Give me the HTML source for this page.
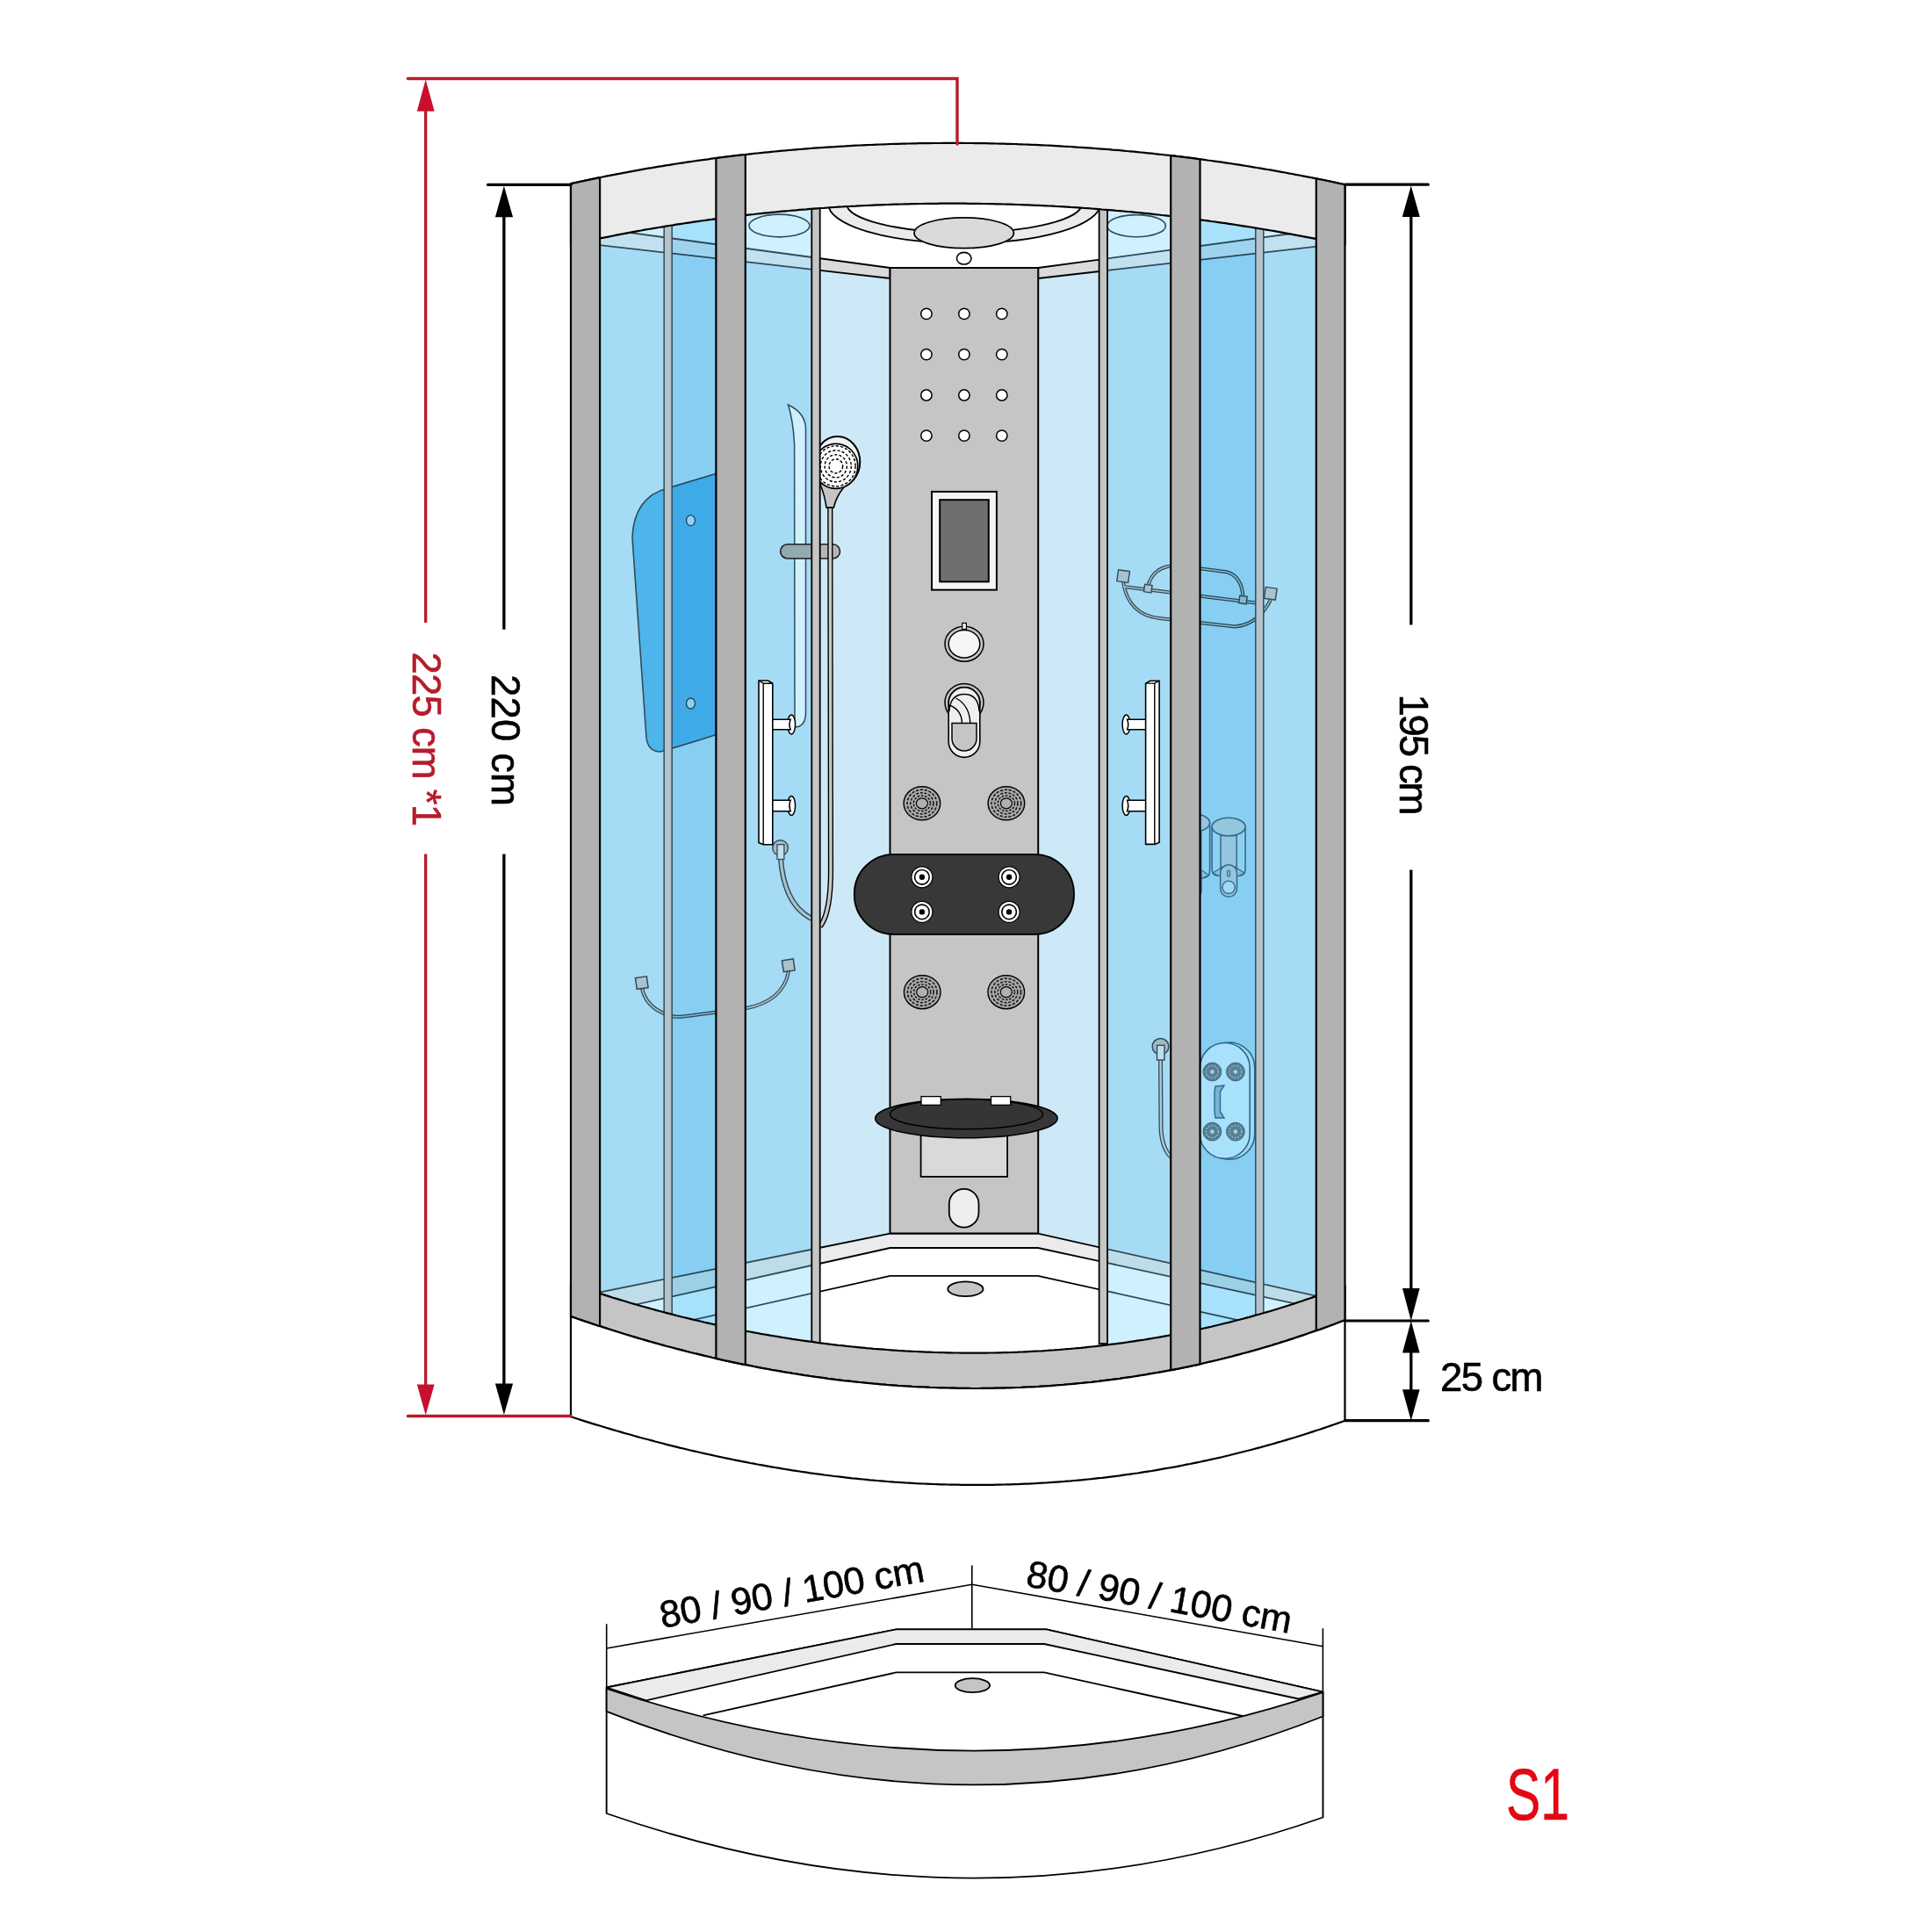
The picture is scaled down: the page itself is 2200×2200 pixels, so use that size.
<!DOCTYPE html><html><head><meta charset="utf-8"><style>html,body{margin:0;padding:0;background:#fff;}svg{display:block;}text{font-family:"Liberation Sans",sans-serif;stroke-width:0.6px;}</style></head><body>
<svg width="2200" height="2200" viewBox="0 0 2200 2200">
<rect width="2200" height="2200" fill="#fff"/>
<defs>
<clipPath id="cab"><path d="M650.0,209.2 654.0,208.3 658.0,207.5 662.0,206.6 666.0,205.7 670.0,204.9 674.0,204.0 678.0,203.2 682.1,202.3 686.1,201.5 690.1,200.7 694.1,199.9 698.1,199.1 702.1,198.3 706.1,197.6 710.1,196.8 714.1,196.1 718.1,195.3 722.1,194.6 726.1,193.9 730.1,193.1 734.1,192.4 738.1,191.7 742.2,191.1 746.2,190.4 750.2,189.7 754.2,189.1 758.2,188.4 762.2,187.8 766.2,187.1 770.2,186.5 774.2,185.9 778.2,185.3 782.2,184.7 786.2,184.1 790.2,183.5 794.2,182.9 798.3,182.4 802.3,181.8 806.3,181.3 810.3,180.7 814.3,180.2 818.3,179.7 822.3,179.2 826.3,178.7 830.3,178.2 834.3,177.7 838.3,177.2 842.3,176.7 846.3,176.3 850.3,175.8 854.3,175.4 858.4,174.9 862.4,174.5 866.4,174.1 870.4,173.7 874.4,173.3 878.4,172.9 882.4,172.5 886.4,172.1 890.4,171.7 894.4,171.4 898.4,171.0 902.4,170.7 906.4,170.3 910.4,170.0 914.5,169.7 918.5,169.3 922.5,169.0 926.5,168.7 930.5,168.4 934.5,168.2 938.5,167.9 942.5,167.6 946.5,167.3 950.5,167.1 954.5,166.8 958.5,166.6 962.5,166.4 966.5,166.1 970.5,165.9 974.6,165.7 978.6,165.5 982.6,165.3 986.6,165.1 990.6,165.0 994.6,164.8 998.6,164.6 1002.6,164.5 1006.6,164.3 1010.6,164.2 1014.6,164.0 1018.6,163.9 1022.6,163.8 1026.6,163.7 1030.6,163.6 1034.7,163.5 1038.7,163.4 1042.7,163.3 1046.7,163.2 1050.7,163.2 1054.7,163.1 1058.7,163.1 1062.7,163.0 1066.7,163.0 1070.7,163.0 1074.7,162.9 1078.7,162.9 1082.7,162.9 1086.7,162.9 1090.8,162.9 1094.8,162.9 1098.8,163.0 1102.8,163.0 1106.8,163.0 1110.8,163.1 1114.8,163.1 1118.8,163.2 1122.8,163.2 1126.8,163.3 1130.8,163.4 1134.8,163.5 1138.8,163.6 1142.8,163.7 1146.8,163.8 1150.9,163.9 1154.9,164.0 1158.9,164.2 1162.9,164.3 1166.9,164.5 1170.9,164.6 1174.9,164.8 1178.9,164.9 1182.9,165.1 1186.9,165.3 1190.9,165.5 1194.9,165.7 1198.9,165.9 1202.9,166.1 1206.9,166.3 1211.0,166.6 1215.0,166.8 1219.0,167.0 1223.0,167.3 1227.0,167.6 1231.0,167.8 1235.0,168.1 1239.0,168.4 1243.0,168.7 1247.0,169.0 1251.0,169.3 1255.0,169.6 1259.0,169.9 1263.0,170.2 1267.0,170.6 1271.1,170.9 1275.1,171.2 1279.1,171.6 1283.1,172.0 1287.1,172.3 1291.1,172.7 1295.1,173.1 1299.1,173.5 1303.1,173.9 1307.1,174.3 1311.1,174.7 1315.1,175.2 1319.1,175.6 1323.1,176.0 1327.2,176.5 1331.2,176.9 1335.2,177.4 1339.2,177.9 1343.2,178.3 1347.2,178.8 1351.2,179.3 1355.2,179.8 1359.2,180.3 1363.2,180.9 1367.2,181.4 1371.2,181.9 1375.2,182.5 1379.2,183.0 1383.2,183.6 1387.3,184.2 1391.3,184.7 1395.3,185.3 1399.3,185.9 1403.3,186.5 1407.3,187.1 1411.3,187.7 1415.3,188.4 1419.3,189.0 1423.3,189.6 1427.3,190.3 1431.3,191.0 1435.3,191.6 1439.3,192.3 1443.3,193.0 1447.4,193.7 1451.4,194.4 1455.4,195.1 1459.4,195.8 1463.4,196.5 1467.4,197.3 1471.4,198.0 1475.4,198.8 1479.4,199.5 1483.4,200.3 1487.4,201.1 1491.4,201.9 1495.4,202.7 1499.4,203.5 1503.5,204.3 1507.5,205.1 1511.5,206.0 1515.5,206.8 1519.5,207.7 1523.5,208.5 1527.5,209.4 1531.5,210.3 L1531.5,1503.0 1527.5,1504.6 1523.5,1506.1 1519.5,1507.7 1515.5,1509.2 1511.5,1510.7 1507.5,1512.1 1503.5,1513.6 1499.4,1515.0 1495.4,1516.4 1491.4,1517.8 1487.4,1519.2 1483.4,1520.6 1479.4,1521.9 1475.4,1523.3 1471.4,1524.6 1467.4,1525.9 1463.4,1527.2 1459.4,1528.4 1455.4,1529.7 1451.4,1530.9 1447.4,1532.2 1443.3,1533.4 1439.3,1534.5 1435.3,1535.7 1431.3,1536.9 1427.3,1538.0 1423.3,1539.1 1419.3,1540.2 1415.3,1541.3 1411.3,1542.4 1407.3,1543.4 1403.3,1544.5 1399.3,1545.5 1395.3,1546.5 1391.3,1547.5 1387.3,1548.5 1383.2,1549.5 1379.2,1550.4 1375.2,1551.3 1371.2,1552.3 1367.2,1553.2 1363.2,1554.1 1359.2,1554.9 1355.2,1555.8 1351.2,1556.6 1347.2,1557.4 1343.2,1558.3 1339.2,1559.1 1335.2,1559.8 1331.2,1560.6 1327.2,1561.4 1323.1,1562.1 1319.1,1562.8 1315.1,1563.5 1311.1,1564.2 1307.1,1564.9 1303.1,1565.6 1299.1,1566.2 1295.1,1566.8 1291.1,1567.5 1287.1,1568.1 1283.1,1568.7 1279.1,1569.2 1275.1,1569.8 1271.1,1570.3 1267.0,1570.9 1263.0,1571.4 1259.0,1571.9 1255.0,1572.4 1251.0,1572.9 1247.0,1573.3 1243.0,1573.8 1239.0,1574.2 1235.0,1574.6 1231.0,1575.0 1227.0,1575.4 1223.0,1575.8 1219.0,1576.2 1215.0,1576.5 1211.0,1576.9 1206.9,1577.2 1202.9,1577.5 1198.9,1577.8 1194.9,1578.1 1190.9,1578.4 1186.9,1578.6 1182.9,1578.9 1178.9,1579.1 1174.9,1579.3 1170.9,1579.5 1166.9,1579.7 1162.9,1579.9 1158.9,1580.0 1154.9,1580.2 1150.9,1580.3 1146.8,1580.4 1142.8,1580.6 1138.8,1580.7 1134.8,1580.7 1130.8,1580.8 1126.8,1580.9 1122.8,1580.9 1118.8,1580.9 1114.8,1581.0 1110.8,1581.0 1106.8,1581.0 1102.8,1580.9 1098.8,1580.9 1094.8,1580.9 1090.8,1580.8 1086.7,1580.7 1082.7,1580.6 1078.7,1580.5 1074.7,1580.4 1070.7,1580.3 1066.7,1580.2 1062.7,1580.0 1058.7,1579.9 1054.7,1579.7 1050.7,1579.5 1046.7,1579.3 1042.7,1579.1 1038.7,1578.9 1034.7,1578.6 1030.6,1578.4 1026.6,1578.1 1022.6,1577.9 1018.6,1577.6 1014.6,1577.3 1010.6,1577.0 1006.6,1576.6 1002.6,1576.3 998.6,1575.9 994.6,1575.6 990.6,1575.2 986.6,1574.8 982.6,1574.4 978.6,1574.0 974.6,1573.6 970.5,1573.2 966.5,1572.7 962.5,1572.3 958.5,1571.8 954.5,1571.3 950.5,1570.8 946.5,1570.3 942.5,1569.8 938.5,1569.2 934.5,1568.7 930.5,1568.1 926.5,1567.6 922.5,1567.0 918.5,1566.4 914.5,1565.8 910.4,1565.2 906.4,1564.5 902.4,1563.9 898.4,1563.2 894.4,1562.6 890.4,1561.9 886.4,1561.2 882.4,1560.5 878.4,1559.8 874.4,1559.0 870.4,1558.3 866.4,1557.6 862.4,1556.8 858.4,1556.0 854.3,1555.2 850.3,1554.4 846.3,1553.6 842.3,1552.8 838.3,1552.0 834.3,1551.1 830.3,1550.2 826.3,1549.4 822.3,1548.5 818.3,1547.6 814.3,1546.7 810.3,1545.8 806.3,1544.8 802.3,1543.9 798.3,1542.9 794.2,1541.9 790.2,1541.0 786.2,1540.0 782.2,1539.0 778.2,1537.9 774.2,1536.9 770.2,1535.9 766.2,1534.8 762.2,1533.7 758.2,1532.7 754.2,1531.6 750.2,1530.5 746.2,1529.4 742.2,1528.2 738.1,1527.1 734.1,1525.9 730.1,1524.8 726.1,1523.6 722.1,1522.4 718.1,1521.2 714.1,1520.0 710.1,1518.8 706.1,1517.5 702.1,1516.3 698.1,1515.0 694.1,1513.7 690.1,1512.4 686.1,1511.1 682.1,1509.8 678.0,1508.5 674.0,1507.2 670.0,1505.8 666.0,1504.5 662.0,1503.1 658.0,1501.7 654.0,1500.3 650.0,1498.9 Z"/></clipPath>
<clipPath id="open"><rect x="934" y="0" width="318" height="2200"/></clipPath>
<clipPath id="glz"><rect x="0" y="0" width="934" height="2200"/><rect x="1252" y="0" width="948" height="2200"/></clipPath>
</defs>
<g clip-path="url(#cab)">
<g id="intr" clip-path="url(#open)" color="#000" style="--rail:#dadada"><rect x="640" y="150" width="900" height="1560" fill="#cde9f7"/>
<polygon points="640,150 1540,150 1540.0,256.6 1182.2,305.0 1013.5,305.0 640.0,254.5" fill="#fff"/>
<polygon points="640.0,254.5 1013.5,305.0 1013.5,317.0 640.0,274.2" style="fill:var(--rail)" stroke="currentColor" stroke-width="1.8" stroke-linejoin="round"/>
<polygon points="1182.2,305.0 1540.0,256.6 1540.0,276.0 1182.2,317.0" style="fill:var(--rail)" stroke="currentColor" stroke-width="1.8" stroke-linejoin="round"/>
<polygon points="640.0,1480.3 1013.6,1404.6 1182.0,1404.6 1540.0,1485.1 1540,1720 640,1720" fill="#fff"/>
<polygon points="640.0,1480.3 1013.6,1404.6 1182.0,1404.6 1540.0,1485.1 1540.0,1498.7 1182.0,1421.0 1013.6,1421.0 640.0,1504.3" fill="#ebebeb" stroke="currentColor" stroke-width="1.8" stroke-linejoin="round"/>
<polyline points="640.0,1536.3 1013.6,1452.9 1182.0,1452.9 1540.0,1532.0" fill="none" stroke="currentColor" stroke-width="1.8" stroke-linejoin="round"/></g>
<g clip-path="url(#glz)" color="#3b4f5b" style="--rail:#eef0f2"><rect x="640" y="150" width="900" height="1560" fill="#cde9f7"/>
<polygon points="640,150 1540,150 1540.0,256.6 1182.2,305.0 1013.5,305.0 640.0,254.5" fill="#fff"/>
<polygon points="640.0,254.5 1013.5,305.0 1013.5,317.0 640.0,274.2" style="fill:var(--rail)" stroke="currentColor" stroke-width="1.8" stroke-linejoin="round"/>
<polygon points="1182.2,305.0 1540.0,256.6 1540.0,276.0 1182.2,317.0" style="fill:var(--rail)" stroke="currentColor" stroke-width="1.8" stroke-linejoin="round"/>
<polygon points="640.0,1480.3 1013.6,1404.6 1182.0,1404.6 1540.0,1485.1 1540,1720 640,1720" fill="#fff"/>
<polygon points="640.0,1480.3 1013.6,1404.6 1182.0,1404.6 1540.0,1485.1 1540.0,1498.7 1182.0,1421.0 1013.6,1421.0 640.0,1504.3" fill="#ebebeb" stroke="currentColor" stroke-width="1.8" stroke-linejoin="round"/>
<polyline points="640.0,1536.3 1013.6,1452.9 1182.0,1452.9 1540.0,1532.0" fill="none" stroke="currentColor" stroke-width="1.8" stroke-linejoin="round"/></g>
<ellipse cx="1099.4" cy="1467.8" rx="20.1" ry="8.4" fill="#c6c5c6" stroke="#000" stroke-width="1.8"/>
<rect x="1013.5" y="305" width="168.7" height="1099.5" fill="#c6c5c6" stroke="#000" stroke-width="2"/>
<path d="M 943 232 A 155 45 0 0 0 1253 232 L 1232 232 A 134 32.8 0 0 1 964 232 Z" fill="#ebebeb" stroke="#000" stroke-width="1.8"/>
<ellipse cx="1097.7" cy="265.3" rx="56.7" ry="17.4" fill="#dadada" stroke="#000" stroke-width="1.8"/>
<ellipse cx="1097.7" cy="294.2" rx="8.3" ry="6.8" fill="#fff" stroke="#000" stroke-width="1.6"/>
<circle cx="1054.9" cy="357.4" r="6.2" fill="#fff" stroke="#000" stroke-width="1.5"/>
<circle cx="1097.9" cy="357.4" r="6.2" fill="#fff" stroke="#000" stroke-width="1.5"/>
<circle cx="1140.8" cy="357.4" r="6.2" fill="#fff" stroke="#000" stroke-width="1.5"/>
<circle cx="1054.9" cy="403.6" r="6.2" fill="#fff" stroke="#000" stroke-width="1.5"/>
<circle cx="1097.9" cy="403.6" r="6.2" fill="#fff" stroke="#000" stroke-width="1.5"/>
<circle cx="1140.8" cy="403.6" r="6.2" fill="#fff" stroke="#000" stroke-width="1.5"/>
<circle cx="1054.9" cy="450.0" r="6.2" fill="#fff" stroke="#000" stroke-width="1.5"/>
<circle cx="1097.9" cy="450.0" r="6.2" fill="#fff" stroke="#000" stroke-width="1.5"/>
<circle cx="1140.8" cy="450.0" r="6.2" fill="#fff" stroke="#000" stroke-width="1.5"/>
<circle cx="1054.9" cy="496.1" r="6.2" fill="#fff" stroke="#000" stroke-width="1.5"/>
<circle cx="1097.9" cy="496.1" r="6.2" fill="#fff" stroke="#000" stroke-width="1.5"/>
<circle cx="1140.8" cy="496.1" r="6.2" fill="#fff" stroke="#000" stroke-width="1.5"/>
<rect x="1061" y="559.9" width="73.9" height="111.8" fill="#f5f5f5" stroke="#000" stroke-width="2"/>
<rect x="1070.2" y="569.2" width="55.6" height="93.2" fill="#706f70" stroke="#000" stroke-width="2"/>
<ellipse cx="1098" cy="733.2" rx="22" ry="20" fill="#c6c5c6" stroke="#000" stroke-width="1.5"/>
<ellipse cx="1098" cy="733.2" rx="17.8" ry="15.8" fill="#f5f5f5" stroke="#000" stroke-width="1.5"/>
<rect x="1095.7" y="709.5" width="4.7" height="7" fill="#f5f5f5" stroke="#000" stroke-width="1.2"/>
<ellipse cx="1098" cy="800" rx="22" ry="21.5" fill="#c6c5c6" stroke="#000" stroke-width="1.5"/>
<ellipse cx="1098" cy="800" rx="18" ry="17.5" fill="#f0f0f0" stroke="#000" stroke-width="1.3"/>
<rect x="1080.2" y="782.8" width="35.6" height="79.6" rx="17.8" ry="17.8" fill="#efefef" stroke="#000" stroke-width="1.6"/>
<path d="M 1081 810 Q 1082 790.5 1098 790.5 Q 1114 790.5 1115 810" fill="none" stroke="#000" stroke-width="1.4"/>
<path d="M 1081 803 Q 1095 808 1095.5 823.5 M 1088.5 795 Q 1104 803 1104.8 823.5" fill="none" stroke="#000" stroke-width="1.4"/>
<path d="M 1084 823.5 L 1112 823.5 L 1112 841 A 14 14 0 0 1 1084 841 Z" fill="#c6c5c6" stroke="#000" stroke-width="1.5"/>
<ellipse cx="1049.9" cy="914.8" rx="20.8" ry="19" fill="#a9a9a9" stroke="#000" stroke-width="1.4"/><ellipse cx="1049.9" cy="914.8" rx="16.8" ry="15.5" fill="none" stroke="#111" stroke-width="1.5" stroke-dasharray="3.2 1.7"/><ellipse cx="1049.9" cy="914.8" rx="13.0" ry="12.0" fill="none" stroke="#111" stroke-width="1.5" stroke-dasharray="3 1.7"/><ellipse cx="1049.9" cy="914.8" rx="9.6" ry="8.8" fill="none" stroke="#111" stroke-width="1.5" stroke-dasharray="2.6 1.6"/><ellipse cx="1049.9" cy="914.8" rx="6.5" ry="6" fill="#b0b0b0" stroke="#000" stroke-width="1.2"/>
<ellipse cx="1145.9" cy="914.8" rx="20.8" ry="19" fill="#a9a9a9" stroke="#000" stroke-width="1.4"/><ellipse cx="1145.9" cy="914.8" rx="16.8" ry="15.5" fill="none" stroke="#111" stroke-width="1.5" stroke-dasharray="3.2 1.7"/><ellipse cx="1145.9" cy="914.8" rx="13.0" ry="12.0" fill="none" stroke="#111" stroke-width="1.5" stroke-dasharray="3 1.7"/><ellipse cx="1145.9" cy="914.8" rx="9.6" ry="8.8" fill="none" stroke="#111" stroke-width="1.5" stroke-dasharray="2.6 1.6"/><ellipse cx="1145.9" cy="914.8" rx="6.5" ry="6" fill="#b0b0b0" stroke="#000" stroke-width="1.2"/>
<ellipse cx="1050.2" cy="1129.7" rx="20.8" ry="19" fill="#a9a9a9" stroke="#000" stroke-width="1.4"/><ellipse cx="1050.2" cy="1129.7" rx="16.8" ry="15.5" fill="none" stroke="#111" stroke-width="1.5" stroke-dasharray="3.2 1.7"/><ellipse cx="1050.2" cy="1129.7" rx="13.0" ry="12.0" fill="none" stroke="#111" stroke-width="1.5" stroke-dasharray="3 1.7"/><ellipse cx="1050.2" cy="1129.7" rx="9.6" ry="8.8" fill="none" stroke="#111" stroke-width="1.5" stroke-dasharray="2.6 1.6"/><ellipse cx="1050.2" cy="1129.7" rx="6.5" ry="6" fill="#b0b0b0" stroke="#000" stroke-width="1.2"/>
<ellipse cx="1145.8" cy="1129.7" rx="20.8" ry="19" fill="#a9a9a9" stroke="#000" stroke-width="1.4"/><ellipse cx="1145.8" cy="1129.7" rx="16.8" ry="15.5" fill="none" stroke="#111" stroke-width="1.5" stroke-dasharray="3.2 1.7"/><ellipse cx="1145.8" cy="1129.7" rx="13.0" ry="12.0" fill="none" stroke="#111" stroke-width="1.5" stroke-dasharray="3 1.7"/><ellipse cx="1145.8" cy="1129.7" rx="9.6" ry="8.8" fill="none" stroke="#111" stroke-width="1.5" stroke-dasharray="2.6 1.6"/><ellipse cx="1145.8" cy="1129.7" rx="6.5" ry="6" fill="#b0b0b0" stroke="#000" stroke-width="1.2"/>
<rect x="972.8" y="972.8" width="250.2" height="91.2" rx="45" ry="45" fill="#383838" stroke="#000" stroke-width="1.8"/>
<circle cx="1049.9" cy="998.8" r="12" fill="#fff" stroke="#000" stroke-width="1.2"/><circle cx="1049.9" cy="998.8" r="8.3" fill="#fff" stroke="#000" stroke-width="1.6"/><circle cx="1049.9" cy="998.8" r="3.2" fill="#000"/>
<circle cx="1049.9" cy="1038.4" r="12" fill="#fff" stroke="#000" stroke-width="1.2"/><circle cx="1049.9" cy="1038.4" r="8.3" fill="#fff" stroke="#000" stroke-width="1.6"/><circle cx="1049.9" cy="1038.4" r="3.2" fill="#000"/>
<circle cx="1149.1" cy="998.8" r="12" fill="#fff" stroke="#000" stroke-width="1.2"/><circle cx="1149.1" cy="998.8" r="8.3" fill="#fff" stroke="#000" stroke-width="1.6"/><circle cx="1149.1" cy="998.8" r="3.2" fill="#000"/>
<circle cx="1149.1" cy="1038.4" r="12" fill="#fff" stroke="#000" stroke-width="1.2"/><circle cx="1149.1" cy="1038.4" r="8.3" fill="#fff" stroke="#000" stroke-width="1.6"/><circle cx="1149.1" cy="1038.4" r="3.2" fill="#000"/>
<rect x="1048.6" y="1288" width="98.5" height="51.9" fill="#d9d9d9" stroke="#000" stroke-width="1.8"/>
<ellipse cx="1100.4" cy="1273.6" rx="103.7" ry="22.2" fill="#373737" stroke="#000" stroke-width="1.6"/>
<ellipse cx="1100.5" cy="1268.8" rx="87" ry="17" fill="#353535" stroke="#000" stroke-width="1.6"/>
<rect x="1049" y="1248.6" width="22.3" height="9.7" fill="#fff" stroke="#000" stroke-width="1.3"/>
<rect x="1128.5" y="1248.6" width="22.2" height="9.7" fill="#fff" stroke="#000" stroke-width="1.3"/>
<rect x="1080.8" y="1353.9" width="33.7" height="43.8" rx="16.8" ry="17" fill="#ededed" stroke="#000" stroke-width="1.8"/>
<ellipse cx="887.5" cy="257" rx="34.5" ry="12.9" fill="#fff" stroke="#3b4f5b" stroke-width="1.6"/>
<ellipse cx="1294.1" cy="257.2" rx="33.2" ry="12.6" fill="#fff" stroke="#3b4f5b" stroke-width="1.6"/>
<path d="M 830 535 L 760 556 Q 722 566 720 612 L 736 840 Q 738 856 752 856 Q 790 845 830 832 Z" fill="#5ec1ec" stroke="#3b4f5b" stroke-width="1.6"/>
<ellipse cx="786.5" cy="592.6" rx="5" ry="6" fill="#d9eefa" stroke="#3b4f5b" stroke-width="1.4"/>
<ellipse cx="786.5" cy="801" rx="5" ry="6" fill="#d9eefa" stroke="#3b4f5b" stroke-width="1.4"/>
<path d="M 897.5 461 Q 917 470 917.5 488 L 917.5 812 Q 917 828 905 828 L 904.6 505 Q 903 478 897.5 461 Z" fill="#fff" stroke="#3b4f5b" stroke-width="1.5"/>
<rect x="888.7" y="619.8" width="67.8" height="16.2" rx="8.1" fill="#b5b5b5" stroke="#222" stroke-width="1.6"/>
<path d="M 889 978 Q 893 1030 924 1046" fill="none" stroke="#3b4f5b" stroke-width="6"/><path d="M 889 978 Q 893 1030 924 1046" fill="none" stroke="#d0d0d0" stroke-width="3.2"/>
<circle cx="888.6" cy="965.5" r="8.8" fill="#c8c8c8" stroke="#3b4f5b" stroke-width="1.4"/>
<rect x="885" y="961.7" width="7.9" height="16.8" fill="#eee" stroke="#3b4f5b" stroke-width="1.3"/>
<path d="M 731 1125 Q 735 1145 756 1154 L 765 1157 Q 770 1159 790 1156 L 849 1148.3 Q 892 1140 898 1106" fill="none" stroke="#3b4f5b" stroke-width="4.2"/><path d="M 731 1125 Q 735 1145 756 1154 L 765 1157 Q 770 1159 790 1156 L 849 1148.3 Q 892 1140 898 1106" fill="none" stroke="#cfcfcf" stroke-width="1.6"/>
<rect x="724.3" y="1112.6" width="13" height="13" fill="#cfcfcf" stroke="#3b4f5b" stroke-width="1.5" transform="rotate(-8 730.8 1119.1)"/>
<rect x="891.3" y="1092.8" width="13" height="13" fill="#cfcfcf" stroke="#3b4f5b" stroke-width="1.5" transform="rotate(-8 897.8 1099.3)"/>
<path d="M 1279 663 Q 1285 700 1320 704 L 1405.8 713.4 Q 1432 712 1447 683 M 1279 668 L 1430 686.5 M 1307 668 Q 1313 644 1340 644 L 1396.7 651.3 Q 1414 656 1415.5 680" fill="none" stroke="#3b4f5b" stroke-width="4"/><path d="M 1279 663 Q 1285 700 1320 704 L 1405.8 713.4 Q 1432 712 1447 683 M 1279 668 L 1430 686.5 M 1307 668 Q 1313 644 1340 644 L 1396.7 651.3 Q 1414 656 1415.5 680" fill="none" stroke="#cfcfcf" stroke-width="1.5"/>
<rect x="1272.6" y="649.7" width="13.0" height="13.0" fill="#cfcfcf" stroke="#3b4f5b" stroke-width="1.4" transform="rotate(8 1279.1 656.2)"/>
<rect x="1440.3" y="669.3" width="13.0" height="13.0" fill="#cfcfcf" stroke="#3b4f5b" stroke-width="1.4" transform="rotate(8 1446.8 675.8)"/>
<rect x="1303.0" y="665.9" width="8.5" height="8.5" fill="#cfcfcf" stroke="#3b4f5b" stroke-width="1.4" transform="rotate(8 1307.3 670.1)"/>
<rect x="1411.2" y="678.8" width="8.5" height="8.5" fill="#cfcfcf" stroke="#3b4f5b" stroke-width="1.4" transform="rotate(8 1415.5 683.0)"/>
<path d="M 1339.6 937.0 L 1339.6 991.6 Q 1339.6 999.6 1347.6 999.6 L 1369.6 999.6 Q 1377.6 999.6 1377.6 991.6 L 1377.6 937.0" fill="#f4f4f4" fill-opacity="0.25" stroke="#4a7890" stroke-width="1.6"/>
<path d="M 1340.6 996.6 L 1349.6 990.6 L 1349.6 1000.6 Z M 1376.6 996.6 L 1367.6 990.6 L 1367.6 1000.6 Z" fill="#d6d6d6" stroke="#4a7890" stroke-width="1.2"/>
<rect x="1349.5" y="947.0" width="18.2" height="42.6" fill="#e2e2e2" stroke="#4a7890" stroke-width="1.5"/>
<ellipse cx="1358.6" cy="937.0" rx="19" ry="10.3" fill="#e2e2e2" stroke="#4a7890" stroke-width="1.6"/>
<rect x="1349.2" y="987.1" width="18.8" height="36.4" rx="9.4" ry="9.4" fill="#e2e2e2" stroke="#4a7890" stroke-width="1.5"/>
<circle cx="1358.6" cy="1012.6" r="7.2" fill="#f6f6f6" stroke="#4a7890" stroke-width="1.4"/>
<rect x="1357.1" y="993.6" width="3" height="7" rx="1.2" fill="#d0d0d0" stroke="#4a7890" stroke-width="1.1"/>
<path d="M 1380.1 941.5 L 1380.1 989.3 Q 1380.1 997.3 1388.1 997.3 L 1410.1 997.3 Q 1418.1 997.3 1418.1 989.3 L 1418.1 941.5" fill="#f4f4f4" fill-opacity="0.25" stroke="#4a7890" stroke-width="1.6"/>
<path d="M 1381.1 994.3 L 1390.1 988.3 L 1390.1 998.3 Z M 1417.1 994.3 L 1408.1 988.3 L 1408.1 998.3 Z" fill="#d6d6d6" stroke="#4a7890" stroke-width="1.2"/>
<rect x="1390.0" y="951.5" width="18.2" height="35.8" fill="#e2e2e2" stroke="#4a7890" stroke-width="1.5"/>
<ellipse cx="1399.1" cy="941.5" rx="19" ry="10.3" fill="#e2e2e2" stroke="#4a7890" stroke-width="1.6"/>
<rect x="1389.7" y="984.8" width="18.8" height="36.4" rx="9.4" ry="9.4" fill="#e2e2e2" stroke="#4a7890" stroke-width="1.5"/>
<circle cx="1399.1" cy="1010.3" r="7.2" fill="#f6f6f6" stroke="#4a7890" stroke-width="1.4"/>
<rect x="1397.6" y="991.3" width="3" height="7" rx="1.2" fill="#d0d0d0" stroke="#4a7890" stroke-width="1.1"/>
<path d="M 1321.5 1207 L 1322 1285 Q 1323 1308 1334 1318" fill="none" stroke="#3b4f5b" stroke-width="5"/><path d="M 1321.5 1207 L 1322 1285 Q 1323 1308 1334 1318" fill="none" stroke="#d8d8d8" stroke-width="2.4"/>
<circle cx="1321.5" cy="1191.7" r="9.3" fill="#c8c8c8" stroke="#3b4f5b" stroke-width="1.5"/>
<rect x="1317.5" y="1190.3" width="8.4" height="16.7" fill="#eee" stroke="#3b4f5b" stroke-width="1.4"/>
<rect x="1371" y="1187" width="57.8" height="133.2" rx="28.9" ry="28.9" fill="#eef6fa" stroke="#4a7488" stroke-width="1.6"/>
<rect x="1366.4" y="1187.5" width="56.8" height="131.8" rx="28.4" ry="28.4" fill="#ffffff" stroke="#4a7488" stroke-width="1.6"/>
<circle cx="1380.4" cy="1220.5" r="10.4" fill="#8c9092" stroke="#4a7488" stroke-width="1"/><circle cx="1380.4" cy="1220.5" r="7" fill="none" stroke="#dfeef5" stroke-width="1.2" stroke-dasharray="1.5 2"/><circle cx="1380.4" cy="1220.5" r="2.3" fill="#e8f3f8"/>
<circle cx="1406.9" cy="1220.5" r="10.4" fill="#8c9092" stroke="#4a7488" stroke-width="1"/><circle cx="1406.9" cy="1220.5" r="7" fill="none" stroke="#dfeef5" stroke-width="1.2" stroke-dasharray="1.5 2"/><circle cx="1406.9" cy="1220.5" r="2.3" fill="#e8f3f8"/>
<circle cx="1380.4" cy="1288.6" r="10.4" fill="#8c9092" stroke="#4a7488" stroke-width="1"/><circle cx="1380.4" cy="1288.6" r="7" fill="none" stroke="#dfeef5" stroke-width="1.2" stroke-dasharray="1.5 2"/><circle cx="1380.4" cy="1288.6" r="2.3" fill="#e8f3f8"/>
<circle cx="1406.9" cy="1288.6" r="10.4" fill="#8c9092" stroke="#4a7488" stroke-width="1"/><circle cx="1406.9" cy="1288.6" r="7" fill="none" stroke="#dfeef5" stroke-width="1.2" stroke-dasharray="1.5 2"/><circle cx="1406.9" cy="1288.6" r="2.3" fill="#e8f3f8"/>
<path d="M 1384 1237 L 1394 1236 L 1389.5 1243 L 1389.5 1266 L 1394 1273 L 1384 1273 L 1383 1266 L 1383 1243 Z" fill="#b4ccd9" stroke="#4a7488" stroke-width="1.4"/>
</g>
<g clip-path="url(#cab)" style="mix-blend-mode:multiply">
<rect x="756" y="150" width="178" height="1560" fill="#cff0fd" style="mix-blend-mode:multiply"/>
<rect x="1252" y="150" width="187" height="1560" fill="#cff0fd" style="mix-blend-mode:multiply"/>
</g>
<rect x="756.2" y="220" width="9" height="1280" fill="#dfcecc" stroke="#3b4f5b" stroke-width="1.5"/>
<rect x="1429.8" y="220" width="9" height="1290" fill="#dfcecc" stroke="#3b4f5b" stroke-width="1.5"/>
<g clip-path="url(#cab)" style="mix-blend-mode:multiply">
<rect x="650" y="150" width="165.4" height="1560" fill="#cff0fd" style="mix-blend-mode:multiply"/>
<rect x="1366.5" y="150" width="165" height="1560" fill="#cff0fd" style="mix-blend-mode:multiply"/>
</g>
<path d="M 945.3 577 L 946 990 Q 946 1040 933.7 1055" fill="none" stroke="#000" stroke-width="6.2"/><path d="M 945.3 577 L 946 990 Q 946 1040 933.7 1055" fill="none" stroke="#c8c8c8" stroke-width="3.4"/>
<path d="M 933.6 550.8 L 961.1 554.6 Q 952 566 949.4 577.9 L 941 577.9 Q 939 563 933.6 550.8 Z" fill="#c5c5c5" stroke="#000" stroke-width="1.6"/>
<ellipse cx="953.6" cy="526" rx="25.7" ry="29" fill="#f2f2f2" stroke="#000" stroke-width="2"/>
<ellipse cx="951.8" cy="530.8" rx="25" ry="25.5" fill="#fff" stroke="#000" stroke-width="1.7"/>
<ellipse cx="951.8" cy="530.8" rx="22.3" ry="23.0" fill="none" stroke="#000" stroke-width="1.45" stroke-dasharray="3.2 2.1"/>
<ellipse cx="951.8" cy="530.8" rx="17.5" ry="18.0" fill="none" stroke="#000" stroke-width="1.45" stroke-dasharray="3.2 2.1"/>
<ellipse cx="951.8" cy="530.8" rx="12.6" ry="13.0" fill="none" stroke="#000" stroke-width="1.45" stroke-dasharray="3.2 2.1"/>
<ellipse cx="951.8" cy="530.8" rx="7.8" ry="8.0" fill="none" stroke="#000" stroke-width="1.45" stroke-dasharray="3.2 2.1"/>
<rect x="924.3" y="220" width="9.4" height="1310" fill="#c5c5c5" stroke="#000" stroke-width="1.8"/>
<rect x="1251.6" y="220" width="9.4" height="1310" fill="#c5c5c5" stroke="#000" stroke-width="1.8"/>
<ellipse cx="901.2" cy="825.0" rx="4.4" ry="11" fill="#fff" stroke="#000" stroke-width="1.5"/><path d="M 879.8 819.2 L 900.2 819.2 Q 897.7 825.0 900.2 830.7 L 879.8 830.7" fill="#fff" stroke="#000" stroke-width="1.5"/><ellipse cx="901.2" cy="917.5" rx="4.4" ry="11" fill="#fff" stroke="#000" stroke-width="1.5"/><path d="M 879.8 911.3 L 900.2 911.3 Q 897.7 917.5 900.2 923.8 L 879.8 923.8" fill="#fff" stroke="#000" stroke-width="1.5"/>
<path d="M 864 775 L 874.5 775 L 879.8 778.2 L 879.8 961.7 L 869.2 961.7 L 864 959.5 Z" fill="#fff" stroke="#000" stroke-width="1.6" stroke-linejoin="round"/>
<path d="M 869.2 778.2 L 879.8 778.2 M 869.2 778.2 L 869.2 961.7 M 864 775 L 869.2 778.2" fill="none" stroke="#000" stroke-width="1.4"/>
<ellipse cx="1282.5" cy="825.0" rx="4.4" ry="11" fill="#fff" stroke="#000" stroke-width="1.5"/><path d="M 1304.6 819.2 L 1283.5 819.2 Q 1286.0 825.0 1283.5 830.7 L 1304.6 830.7" fill="#fff" stroke="#000" stroke-width="1.5"/><ellipse cx="1282.5" cy="917.5" rx="4.4" ry="11" fill="#fff" stroke="#000" stroke-width="1.5"/><path d="M 1304.6 911.3 L 1283.5 911.3 Q 1286.0 917.5 1283.5 923.8 L 1304.6 923.8" fill="#fff" stroke="#000" stroke-width="1.5"/>
<path d="M 1304.6 778.1 L 1309.8 775.2 L 1320.1 775.2 L 1320.1 959.3 L 1314.8 961.4 L 1304.6 961.4 Z" fill="#fff" stroke="#000" stroke-width="1.6" stroke-linejoin="round"/>
<path d="M 1304.6 778.1 L 1314.8 778.1 L 1314.8 961.4 M 1314.8 778.1 L 1320.1 775.2" fill="none" stroke="#000" stroke-width="1.4"/>
<path d="M650.0,209.2 654.0,208.3 658.0,207.5 662.0,206.6 666.0,205.7 670.0,204.9 674.0,204.0 678.0,203.2 682.1,202.3 686.1,201.5 690.1,200.7 694.1,199.9 698.1,199.1 702.1,198.3 706.1,197.6 710.1,196.8 714.1,196.1 718.1,195.3 722.1,194.6 726.1,193.9 730.1,193.1 734.1,192.4 738.1,191.7 742.2,191.1 746.2,190.4 750.2,189.7 754.2,189.1 758.2,188.4 762.2,187.8 766.2,187.1 770.2,186.5 774.2,185.9 778.2,185.3 782.2,184.7 786.2,184.1 790.2,183.5 794.2,182.9 798.3,182.4 802.3,181.8 806.3,181.3 810.3,180.7 814.3,180.2 818.3,179.7 822.3,179.2 826.3,178.7 830.3,178.2 834.3,177.7 838.3,177.2 842.3,176.7 846.3,176.3 850.3,175.8 854.3,175.4 858.4,174.9 862.4,174.5 866.4,174.1 870.4,173.7 874.4,173.3 878.4,172.9 882.4,172.5 886.4,172.1 890.4,171.7 894.4,171.4 898.4,171.0 902.4,170.7 906.4,170.3 910.4,170.0 914.5,169.7 918.5,169.3 922.5,169.0 926.5,168.7 930.5,168.4 934.5,168.2 938.5,167.9 942.5,167.6 946.5,167.3 950.5,167.1 954.5,166.8 958.5,166.6 962.5,166.4 966.5,166.1 970.5,165.9 974.6,165.7 978.6,165.5 982.6,165.3 986.6,165.1 990.6,165.0 994.6,164.8 998.6,164.6 1002.6,164.5 1006.6,164.3 1010.6,164.2 1014.6,164.0 1018.6,163.9 1022.6,163.8 1026.6,163.7 1030.6,163.6 1034.7,163.5 1038.7,163.4 1042.7,163.3 1046.7,163.2 1050.7,163.2 1054.7,163.1 1058.7,163.1 1062.7,163.0 1066.7,163.0 1070.7,163.0 1074.7,162.9 1078.7,162.9 1082.7,162.9 1086.7,162.9 1090.8,162.9 1094.8,162.9 1098.8,163.0 1102.8,163.0 1106.8,163.0 1110.8,163.1 1114.8,163.1 1118.8,163.2 1122.8,163.2 1126.8,163.3 1130.8,163.4 1134.8,163.5 1138.8,163.6 1142.8,163.7 1146.8,163.8 1150.9,163.9 1154.9,164.0 1158.9,164.2 1162.9,164.3 1166.9,164.5 1170.9,164.6 1174.9,164.8 1178.9,164.9 1182.9,165.1 1186.9,165.3 1190.9,165.5 1194.9,165.7 1198.9,165.9 1202.9,166.1 1206.9,166.3 1211.0,166.6 1215.0,166.8 1219.0,167.0 1223.0,167.3 1227.0,167.6 1231.0,167.8 1235.0,168.1 1239.0,168.4 1243.0,168.7 1247.0,169.0 1251.0,169.3 1255.0,169.6 1259.0,169.9 1263.0,170.2 1267.0,170.6 1271.1,170.9 1275.1,171.2 1279.1,171.6 1283.1,172.0 1287.1,172.3 1291.1,172.7 1295.1,173.1 1299.1,173.5 1303.1,173.9 1307.1,174.3 1311.1,174.7 1315.1,175.2 1319.1,175.6 1323.1,176.0 1327.2,176.5 1331.2,176.9 1335.2,177.4 1339.2,177.9 1343.2,178.3 1347.2,178.8 1351.2,179.3 1355.2,179.8 1359.2,180.3 1363.2,180.9 1367.2,181.4 1371.2,181.9 1375.2,182.5 1379.2,183.0 1383.2,183.6 1387.3,184.2 1391.3,184.7 1395.3,185.3 1399.3,185.9 1403.3,186.5 1407.3,187.1 1411.3,187.7 1415.3,188.4 1419.3,189.0 1423.3,189.6 1427.3,190.3 1431.3,191.0 1435.3,191.6 1439.3,192.3 1443.3,193.0 1447.4,193.7 1451.4,194.4 1455.4,195.1 1459.4,195.8 1463.4,196.5 1467.4,197.3 1471.4,198.0 1475.4,198.8 1479.4,199.5 1483.4,200.3 1487.4,201.1 1491.4,201.9 1495.4,202.7 1499.4,203.5 1503.5,204.3 1507.5,205.1 1511.5,206.0 1515.5,206.8 1519.5,207.7 1523.5,208.5 1527.5,209.4 1531.5,210.3 L1531.5,278.8 1527.5,278.0 1523.5,277.1 1519.5,276.3 1515.5,275.4 1511.5,274.6 1507.5,273.8 1503.5,273.0 1499.4,272.2 1495.4,271.4 1491.4,270.6 1487.4,269.8 1483.4,269.1 1479.4,268.3 1475.4,267.6 1471.4,266.8 1467.4,266.1 1463.4,265.4 1459.4,264.6 1455.4,263.9 1451.4,263.2 1447.4,262.5 1443.3,261.8 1439.3,261.2 1435.3,260.5 1431.3,259.8 1427.3,259.2 1423.3,258.5 1419.3,257.9 1415.3,257.3 1411.3,256.7 1407.3,256.0 1403.3,255.4 1399.3,254.8 1395.3,254.2 1391.3,253.7 1387.3,253.1 1383.2,252.5 1379.2,252.0 1375.2,251.4 1371.2,250.9 1367.2,250.3 1363.2,249.8 1359.2,249.3 1355.2,248.8 1351.2,248.3 1347.2,247.8 1343.2,247.3 1339.2,246.8 1335.2,246.3 1331.2,245.9 1327.2,245.4 1323.1,245.0 1319.1,244.5 1315.1,244.1 1311.1,243.6 1307.1,243.2 1303.1,242.8 1299.1,242.4 1295.1,242.0 1291.1,241.6 1287.1,241.2 1283.1,240.9 1279.1,240.5 1275.1,240.1 1271.1,239.8 1267.0,239.4 1263.0,239.1 1259.0,238.8 1255.0,238.5 1251.0,238.1 1247.0,237.8 1243.0,237.5 1239.0,237.2 1235.0,237.0 1231.0,236.7 1227.0,236.4 1223.0,236.1 1219.0,235.9 1215.0,235.6 1211.0,235.4 1206.9,235.2 1202.9,235.0 1198.9,234.7 1194.9,234.5 1190.9,234.3 1186.9,234.1 1182.9,233.9 1178.9,233.8 1174.9,233.6 1170.9,233.4 1166.9,233.3 1162.9,233.1 1158.9,233.0 1154.9,232.8 1150.9,232.7 1146.8,232.6 1142.8,232.5 1138.8,232.4 1134.8,232.3 1130.8,232.2 1126.8,232.1 1122.8,232.0 1118.8,232.0 1114.8,231.9 1110.8,231.8 1106.8,231.8 1102.8,231.8 1098.8,231.7 1094.8,231.7 1090.8,231.7 1086.7,231.7 1082.7,231.7 1078.7,231.7 1074.7,231.7 1070.7,231.7 1066.7,231.8 1062.7,231.8 1058.7,231.8 1054.7,231.9 1050.7,232.0 1046.7,232.0 1042.7,232.1 1038.7,232.2 1034.7,232.3 1030.6,232.4 1026.6,232.5 1022.6,232.6 1018.6,232.7 1014.6,232.8 1010.6,233.0 1006.6,233.1 1002.6,233.3 998.6,233.4 994.6,233.6 990.6,233.8 986.6,234.0 982.6,234.2 978.6,234.3 974.6,234.6 970.5,234.8 966.5,235.0 962.5,235.2 958.5,235.5 954.5,235.7 950.5,236.0 946.5,236.2 942.5,236.5 938.5,236.8 934.5,237.0 930.5,237.3 926.5,237.6 922.5,237.9 918.5,238.3 914.5,238.6 910.4,238.9 906.4,239.3 902.4,239.6 898.4,240.0 894.4,240.3 890.4,240.7 886.4,241.1 882.4,241.5 878.4,241.9 874.4,242.3 870.4,242.7 866.4,243.1 862.4,243.5 858.4,244.0 854.3,244.4 850.3,244.9 846.3,245.3 842.3,245.8 838.3,246.3 834.3,246.8 830.3,247.3 826.3,247.8 822.3,248.3 818.3,248.8 814.3,249.3 810.3,249.9 806.3,250.4 802.3,251.0 798.3,251.5 794.2,252.1 790.2,252.7 786.2,253.3 782.2,253.9 778.2,254.5 774.2,255.1 770.2,255.7 766.2,256.4 762.2,257.0 758.2,257.6 754.2,258.3 750.2,259.0 746.2,259.7 742.2,260.3 738.1,261.0 734.1,261.7 730.1,262.5 726.1,263.2 722.1,263.9 718.1,264.6 714.1,265.4 710.1,266.2 706.1,266.9 702.1,267.7 698.1,268.5 694.1,269.3 690.1,270.1 686.1,270.9 682.1,271.7 678.0,272.6 674.0,273.4 670.0,274.3 666.0,275.1 662.0,276.0 658.0,276.9 654.0,277.8 650.0,278.7 Z" fill="#ebebeb" stroke="#000" stroke-width="2.2" stroke-linejoin="round"/>
<path d="M650.0,1461.8 654.0,1463.2 658.0,1464.6 662.0,1465.9 666.0,1467.3 670.0,1468.6 674.0,1470.0 678.0,1471.3 682.1,1472.6 686.1,1473.9 690.1,1475.1 694.1,1476.4 698.1,1477.7 702.1,1478.9 706.1,1480.1 710.1,1481.3 714.1,1482.5 718.1,1483.7 722.1,1484.9 726.1,1486.0 730.1,1487.2 734.1,1488.3 738.1,1489.4 742.2,1490.5 746.2,1491.6 750.2,1492.7 754.2,1493.8 758.2,1494.9 762.2,1495.9 766.2,1496.9 770.2,1498.0 774.2,1499.0 778.2,1500.0 782.2,1500.9 786.2,1501.9 790.2,1502.9 794.2,1503.8 798.3,1504.7 802.3,1505.7 806.3,1506.6 810.3,1507.5 814.3,1508.4 818.3,1509.2 822.3,1510.1 826.3,1510.9 830.3,1511.8 834.3,1512.6 838.3,1513.4 842.3,1514.2 846.3,1515.0 850.3,1515.8 854.3,1516.5 858.4,1517.3 862.4,1518.0 866.4,1518.8 870.4,1519.5 874.4,1520.2 878.4,1520.9 882.4,1521.5 886.4,1522.2 890.4,1522.9 894.4,1523.5 898.4,1524.1 902.4,1524.8 906.4,1525.4 910.4,1526.0 914.5,1526.6 918.5,1527.1 922.5,1527.7 926.5,1528.2 930.5,1528.8 934.5,1529.3 938.5,1529.8 942.5,1530.3 946.5,1530.8 950.5,1531.3 954.5,1531.8 958.5,1532.2 962.5,1532.7 966.5,1533.1 970.5,1533.5 974.6,1533.9 978.6,1534.3 982.6,1534.7 986.6,1535.1 990.6,1535.4 994.6,1535.8 998.6,1536.1 1002.6,1536.4 1006.6,1536.7 1010.6,1537.0 1014.6,1537.3 1018.6,1537.6 1022.6,1537.9 1026.6,1538.1 1030.6,1538.4 1034.7,1538.6 1038.7,1538.8 1042.7,1539.0 1046.7,1539.2 1050.7,1539.4 1054.7,1539.6 1058.7,1539.7 1062.7,1539.9 1066.7,1540.0 1070.7,1540.1 1074.7,1540.2 1078.7,1540.3 1082.7,1540.4 1086.7,1540.5 1090.8,1540.5 1094.8,1540.6 1098.8,1540.6 1102.8,1540.7 1106.8,1540.7 1110.8,1540.7 1114.8,1540.6 1118.8,1540.6 1122.8,1540.6 1126.8,1540.5 1130.8,1540.5 1134.8,1540.4 1138.8,1540.3 1142.8,1540.2 1146.8,1540.1 1150.9,1540.0 1154.9,1539.8 1158.9,1539.7 1162.9,1539.5 1166.9,1539.3 1170.9,1539.1 1174.9,1538.9 1178.9,1538.7 1182.9,1538.5 1186.9,1538.3 1190.9,1538.0 1194.9,1537.7 1198.9,1537.5 1202.9,1537.2 1206.9,1536.9 1211.0,1536.5 1215.0,1536.2 1219.0,1535.9 1223.0,1535.5 1227.0,1535.1 1231.0,1534.8 1235.0,1534.4 1239.0,1533.9 1243.0,1533.5 1247.0,1533.1 1251.0,1532.6 1255.0,1532.2 1259.0,1531.7 1263.0,1531.2 1267.0,1530.7 1271.1,1530.2 1275.1,1529.6 1279.1,1529.1 1283.1,1528.5 1287.1,1527.9 1291.1,1527.3 1295.1,1526.7 1299.1,1526.1 1303.1,1525.5 1307.1,1524.8 1311.1,1524.2 1315.1,1523.5 1319.1,1522.8 1323.1,1522.1 1327.2,1521.4 1331.2,1520.7 1335.2,1519.9 1339.2,1519.1 1343.2,1518.4 1347.2,1517.6 1351.2,1516.8 1355.2,1515.9 1359.2,1515.1 1363.2,1514.2 1367.2,1513.4 1371.2,1512.5 1375.2,1511.6 1379.2,1510.7 1383.2,1509.7 1387.3,1508.8 1391.3,1507.8 1395.3,1506.8 1399.3,1505.9 1403.3,1504.8 1407.3,1503.8 1411.3,1502.8 1415.3,1501.7 1419.3,1500.6 1423.3,1499.6 1427.3,1498.4 1431.3,1497.3 1435.3,1496.2 1439.3,1495.0 1443.3,1493.9 1447.4,1492.7 1451.4,1491.5 1455.4,1490.2 1459.4,1489.0 1463.4,1487.7 1467.4,1486.5 1471.4,1485.2 1475.4,1483.9 1479.4,1482.5 1483.4,1481.2 1487.4,1479.8 1491.4,1478.5 1495.4,1477.1 1499.4,1475.6 1503.5,1474.2 1507.5,1472.8 1511.5,1471.3 1515.5,1469.8 1519.5,1468.3 1523.5,1466.8 1527.5,1465.2 1531.5,1463.7 L1531.5,1503.0 1527.5,1504.6 1523.5,1506.1 1519.5,1507.7 1515.5,1509.2 1511.5,1510.7 1507.5,1512.1 1503.5,1513.6 1499.4,1515.0 1495.4,1516.4 1491.4,1517.8 1487.4,1519.2 1483.4,1520.6 1479.4,1521.9 1475.4,1523.3 1471.4,1524.6 1467.4,1525.9 1463.4,1527.2 1459.4,1528.4 1455.4,1529.7 1451.4,1530.9 1447.4,1532.2 1443.3,1533.4 1439.3,1534.5 1435.3,1535.7 1431.3,1536.9 1427.3,1538.0 1423.3,1539.1 1419.3,1540.2 1415.3,1541.3 1411.3,1542.4 1407.3,1543.4 1403.3,1544.5 1399.3,1545.5 1395.3,1546.5 1391.3,1547.5 1387.3,1548.5 1383.2,1549.5 1379.2,1550.4 1375.2,1551.3 1371.2,1552.3 1367.2,1553.2 1363.2,1554.1 1359.2,1554.9 1355.2,1555.8 1351.2,1556.6 1347.2,1557.4 1343.2,1558.3 1339.2,1559.1 1335.2,1559.8 1331.2,1560.6 1327.2,1561.4 1323.1,1562.1 1319.1,1562.8 1315.1,1563.5 1311.1,1564.2 1307.1,1564.9 1303.1,1565.6 1299.1,1566.2 1295.1,1566.8 1291.1,1567.5 1287.1,1568.1 1283.1,1568.7 1279.1,1569.2 1275.1,1569.8 1271.1,1570.3 1267.0,1570.9 1263.0,1571.4 1259.0,1571.9 1255.0,1572.4 1251.0,1572.9 1247.0,1573.3 1243.0,1573.8 1239.0,1574.2 1235.0,1574.6 1231.0,1575.0 1227.0,1575.4 1223.0,1575.8 1219.0,1576.2 1215.0,1576.5 1211.0,1576.9 1206.9,1577.2 1202.9,1577.5 1198.9,1577.8 1194.9,1578.1 1190.9,1578.4 1186.9,1578.6 1182.9,1578.9 1178.9,1579.1 1174.9,1579.3 1170.9,1579.5 1166.9,1579.7 1162.9,1579.9 1158.9,1580.0 1154.9,1580.2 1150.9,1580.3 1146.8,1580.4 1142.8,1580.6 1138.8,1580.7 1134.8,1580.7 1130.8,1580.8 1126.8,1580.9 1122.8,1580.9 1118.8,1580.9 1114.8,1581.0 1110.8,1581.0 1106.8,1581.0 1102.8,1580.9 1098.8,1580.9 1094.8,1580.9 1090.8,1580.8 1086.7,1580.7 1082.7,1580.6 1078.7,1580.5 1074.7,1580.4 1070.7,1580.3 1066.7,1580.2 1062.7,1580.0 1058.7,1579.9 1054.7,1579.7 1050.7,1579.5 1046.7,1579.3 1042.7,1579.1 1038.7,1578.9 1034.7,1578.6 1030.6,1578.4 1026.6,1578.1 1022.6,1577.9 1018.6,1577.6 1014.6,1577.3 1010.6,1577.0 1006.6,1576.6 1002.6,1576.3 998.6,1575.9 994.6,1575.6 990.6,1575.2 986.6,1574.8 982.6,1574.4 978.6,1574.0 974.6,1573.6 970.5,1573.2 966.5,1572.7 962.5,1572.3 958.5,1571.8 954.5,1571.3 950.5,1570.8 946.5,1570.3 942.5,1569.8 938.5,1569.2 934.5,1568.7 930.5,1568.1 926.5,1567.6 922.5,1567.0 918.5,1566.4 914.5,1565.8 910.4,1565.2 906.4,1564.5 902.4,1563.9 898.4,1563.2 894.4,1562.6 890.4,1561.9 886.4,1561.2 882.4,1560.5 878.4,1559.8 874.4,1559.0 870.4,1558.3 866.4,1557.6 862.4,1556.8 858.4,1556.0 854.3,1555.2 850.3,1554.4 846.3,1553.6 842.3,1552.8 838.3,1552.0 834.3,1551.1 830.3,1550.2 826.3,1549.4 822.3,1548.5 818.3,1547.6 814.3,1546.7 810.3,1545.8 806.3,1544.8 802.3,1543.9 798.3,1542.9 794.2,1541.9 790.2,1541.0 786.2,1540.0 782.2,1539.0 778.2,1537.9 774.2,1536.9 770.2,1535.9 766.2,1534.8 762.2,1533.7 758.2,1532.7 754.2,1531.6 750.2,1530.5 746.2,1529.4 742.2,1528.2 738.1,1527.1 734.1,1525.9 730.1,1524.8 726.1,1523.6 722.1,1522.4 718.1,1521.2 714.1,1520.0 710.1,1518.8 706.1,1517.5 702.1,1516.3 698.1,1515.0 694.1,1513.7 690.1,1512.4 686.1,1511.1 682.1,1509.8 678.0,1508.5 674.0,1507.2 670.0,1505.8 666.0,1504.5 662.0,1503.1 658.0,1501.7 654.0,1500.3 650.0,1498.9 Z" fill="#c6c5c6" stroke="#000" stroke-width="2.2" stroke-linejoin="round"/>
<path d="M650.0,1498.9 654.0,1500.3 658.0,1501.7 662.0,1503.1 666.0,1504.5 670.0,1505.8 674.0,1507.2 678.0,1508.5 682.1,1509.8 686.1,1511.1 690.1,1512.4 694.1,1513.7 698.1,1515.0 702.1,1516.3 706.1,1517.5 710.1,1518.8 714.1,1520.0 718.1,1521.2 722.1,1522.4 726.1,1523.6 730.1,1524.8 734.1,1525.9 738.1,1527.1 742.2,1528.2 746.2,1529.4 750.2,1530.5 754.2,1531.6 758.2,1532.7 762.2,1533.7 766.2,1534.8 770.2,1535.9 774.2,1536.9 778.2,1537.9 782.2,1539.0 786.2,1540.0 790.2,1541.0 794.2,1541.9 798.3,1542.9 802.3,1543.9 806.3,1544.8 810.3,1545.8 814.3,1546.7 818.3,1547.6 822.3,1548.5 826.3,1549.4 830.3,1550.2 834.3,1551.1 838.3,1552.0 842.3,1552.8 846.3,1553.6 850.3,1554.4 854.3,1555.2 858.4,1556.0 862.4,1556.8 866.4,1557.6 870.4,1558.3 874.4,1559.0 878.4,1559.8 882.4,1560.5 886.4,1561.2 890.4,1561.9 894.4,1562.6 898.4,1563.2 902.4,1563.9 906.4,1564.5 910.4,1565.2 914.5,1565.8 918.5,1566.4 922.5,1567.0 926.5,1567.6 930.5,1568.1 934.5,1568.7 938.5,1569.2 942.5,1569.8 946.5,1570.3 950.5,1570.8 954.5,1571.3 958.5,1571.8 962.5,1572.3 966.5,1572.7 970.5,1573.2 974.6,1573.6 978.6,1574.0 982.6,1574.4 986.6,1574.8 990.6,1575.2 994.6,1575.6 998.6,1575.9 1002.6,1576.3 1006.6,1576.6 1010.6,1577.0 1014.6,1577.3 1018.6,1577.6 1022.6,1577.9 1026.6,1578.1 1030.6,1578.4 1034.7,1578.6 1038.7,1578.9 1042.7,1579.1 1046.7,1579.3 1050.7,1579.5 1054.7,1579.7 1058.7,1579.9 1062.7,1580.0 1066.7,1580.2 1070.7,1580.3 1074.7,1580.4 1078.7,1580.5 1082.7,1580.6 1086.7,1580.7 1090.8,1580.8 1094.8,1580.9 1098.8,1580.9 1102.8,1580.9 1106.8,1581.0 1110.8,1581.0 1114.8,1581.0 1118.8,1580.9 1122.8,1580.9 1126.8,1580.9 1130.8,1580.8 1134.8,1580.7 1138.8,1580.7 1142.8,1580.6 1146.8,1580.4 1150.9,1580.3 1154.9,1580.2 1158.9,1580.0 1162.9,1579.9 1166.9,1579.7 1170.9,1579.5 1174.9,1579.3 1178.9,1579.1 1182.9,1578.9 1186.9,1578.6 1190.9,1578.4 1194.9,1578.1 1198.9,1577.8 1202.9,1577.5 1206.9,1577.2 1211.0,1576.9 1215.0,1576.5 1219.0,1576.2 1223.0,1575.8 1227.0,1575.4 1231.0,1575.0 1235.0,1574.6 1239.0,1574.2 1243.0,1573.8 1247.0,1573.3 1251.0,1572.9 1255.0,1572.4 1259.0,1571.9 1263.0,1571.4 1267.0,1570.9 1271.1,1570.3 1275.1,1569.8 1279.1,1569.2 1283.1,1568.7 1287.1,1568.1 1291.1,1567.5 1295.1,1566.8 1299.1,1566.2 1303.1,1565.6 1307.1,1564.9 1311.1,1564.2 1315.1,1563.5 1319.1,1562.8 1323.1,1562.1 1327.2,1561.4 1331.2,1560.6 1335.2,1559.8 1339.2,1559.1 1343.2,1558.3 1347.2,1557.4 1351.2,1556.6 1355.2,1555.8 1359.2,1554.9 1363.2,1554.1 1367.2,1553.2 1371.2,1552.3 1375.2,1551.3 1379.2,1550.4 1383.2,1549.5 1387.3,1548.5 1391.3,1547.5 1395.3,1546.5 1399.3,1545.5 1403.3,1544.5 1407.3,1543.4 1411.3,1542.4 1415.3,1541.3 1419.3,1540.2 1423.3,1539.1 1427.3,1538.0 1431.3,1536.9 1435.3,1535.7 1439.3,1534.5 1443.3,1533.4 1447.4,1532.2 1451.4,1530.9 1455.4,1529.7 1459.4,1528.4 1463.4,1527.2 1467.4,1525.9 1471.4,1524.6 1475.4,1523.3 1479.4,1521.9 1483.4,1520.6 1487.4,1519.2 1491.4,1517.8 1495.4,1516.4 1499.4,1515.0 1503.5,1513.6 1507.5,1512.1 1511.5,1510.7 1515.5,1509.2 1519.5,1507.7 1523.5,1506.1 1527.5,1504.6 1531.5,1503.0 L1531.5,1617.8 1527.5,1619.2 1523.5,1620.6 1519.5,1622.0 1515.5,1623.4 1511.5,1624.8 1507.5,1626.1 1503.5,1627.5 1499.4,1628.8 1495.4,1630.1 1491.4,1631.4 1487.4,1632.7 1483.4,1634.0 1479.4,1635.2 1475.4,1636.5 1471.4,1637.7 1467.4,1638.9 1463.4,1640.1 1459.4,1641.3 1455.4,1642.4 1451.4,1643.6 1447.4,1644.7 1443.3,1645.9 1439.3,1647.0 1435.3,1648.1 1431.3,1649.1 1427.3,1650.2 1423.3,1651.3 1419.3,1652.3 1415.3,1653.3 1411.3,1654.3 1407.3,1655.3 1403.3,1656.3 1399.3,1657.3 1395.3,1658.2 1391.3,1659.2 1387.3,1660.1 1383.2,1661.0 1379.2,1661.9 1375.2,1662.8 1371.2,1663.6 1367.2,1664.5 1363.2,1665.3 1359.2,1666.1 1355.2,1667.0 1351.2,1667.7 1347.2,1668.5 1343.2,1669.3 1339.2,1670.1 1335.2,1670.8 1331.2,1671.5 1327.2,1672.2 1323.1,1672.9 1319.1,1673.6 1315.1,1674.3 1311.1,1675.0 1307.1,1675.6 1303.1,1676.2 1299.1,1676.8 1295.1,1677.5 1291.1,1678.0 1287.1,1678.6 1283.1,1679.2 1279.1,1679.7 1275.1,1680.3 1271.1,1680.8 1267.0,1681.3 1263.0,1681.8 1259.0,1682.3 1255.0,1682.8 1251.0,1683.2 1247.0,1683.6 1243.0,1684.1 1239.0,1684.5 1235.0,1684.9 1231.0,1685.3 1227.0,1685.7 1223.0,1686.0 1219.0,1686.4 1215.0,1686.7 1211.0,1687.0 1206.9,1687.3 1202.9,1687.6 1198.9,1687.9 1194.9,1688.2 1190.9,1688.5 1186.9,1688.7 1182.9,1688.9 1178.9,1689.2 1174.9,1689.4 1170.9,1689.6 1166.9,1689.7 1162.9,1689.9 1158.9,1690.1 1154.9,1690.2 1150.9,1690.3 1146.8,1690.4 1142.8,1690.5 1138.8,1690.6 1134.8,1690.7 1130.8,1690.8 1126.8,1690.8 1122.8,1690.9 1118.8,1690.9 1114.8,1690.9 1110.8,1690.9 1106.8,1690.9 1102.8,1690.9 1098.8,1690.8 1094.8,1690.8 1090.8,1690.7 1086.7,1690.7 1082.7,1690.6 1078.7,1690.5 1074.7,1690.4 1070.7,1690.3 1066.7,1690.1 1062.7,1690.0 1058.7,1689.8 1054.7,1689.6 1050.7,1689.5 1046.7,1689.3 1042.7,1689.1 1038.7,1688.8 1034.7,1688.6 1030.6,1688.4 1026.6,1688.1 1022.6,1687.8 1018.6,1687.6 1014.6,1687.3 1010.6,1687.0 1006.6,1686.6 1002.6,1686.3 998.6,1686.0 994.6,1685.6 990.6,1685.3 986.6,1684.9 982.6,1684.5 978.6,1684.1 974.6,1683.7 970.5,1683.3 966.5,1682.8 962.5,1682.4 958.5,1681.9 954.5,1681.4 950.5,1681.0 946.5,1680.5 942.5,1680.0 938.5,1679.5 934.5,1678.9 930.5,1678.4 926.5,1677.8 922.5,1677.3 918.5,1676.7 914.5,1676.1 910.4,1675.5 906.4,1674.9 902.4,1674.3 898.4,1673.7 894.4,1673.0 890.4,1672.4 886.4,1671.7 882.4,1671.0 878.4,1670.3 874.4,1669.6 870.4,1668.9 866.4,1668.2 862.4,1667.5 858.4,1666.7 854.3,1666.0 850.3,1665.2 846.3,1664.4 842.3,1663.6 838.3,1662.8 834.3,1662.0 830.3,1661.2 826.3,1660.4 822.3,1659.5 818.3,1658.7 814.3,1657.8 810.3,1656.9 806.3,1656.0 802.3,1655.1 798.3,1654.2 794.2,1653.3 790.2,1652.4 786.2,1651.5 782.2,1650.5 778.2,1649.5 774.2,1648.6 770.2,1647.6 766.2,1646.6 762.2,1645.6 758.2,1644.6 754.2,1643.5 750.2,1642.5 746.2,1641.5 742.2,1640.4 738.1,1639.3 734.1,1638.3 730.1,1637.2 726.1,1636.1 722.1,1635.0 718.1,1633.8 714.1,1632.7 710.1,1631.6 706.1,1630.4 702.1,1629.3 698.1,1628.1 694.1,1626.9 690.1,1625.7 686.1,1624.5 682.1,1623.3 678.0,1622.1 674.0,1620.9 670.0,1619.6 666.0,1618.4 662.0,1617.1 658.0,1615.8 654.0,1614.5 650.0,1613.3 Z" fill="#fff" stroke="#000" stroke-width="2.2" stroke-linejoin="round"/>
<path d="M650.0,209.2 658.3,207.4 666.5,205.6 674.8,203.8 683.1,202.1 L683.1,1510.2 674.8,1507.4 666.5,1504.6 658.3,1501.8 650.0,1498.9 Z" fill="#b3b2b3" stroke="#000" stroke-width="2.2" stroke-linejoin="round"/>
<path d="M815.4,180.1 823.8,179.0 832.1,178.0 840.4,177.0 848.8,176.0 L848.8,1554.1 840.4,1552.4 832.1,1550.6 823.8,1548.8 815.4,1546.9 Z" fill="#b3b2b3" stroke="#000" stroke-width="2.2" stroke-linejoin="round"/>
<path d="M1333.2,177.2 1341.5,178.1 1349.8,179.2 1358.2,180.2 1366.5,181.3 L1366.5,1553.3 1358.2,1555.1 1349.8,1556.9 1341.5,1558.6 1333.2,1560.2 Z" fill="#b3b2b3" stroke="#000" stroke-width="2.2" stroke-linejoin="round"/>
<path d="M1498.8,203.4 1507.0,205.0 1515.2,206.7 1523.3,208.5 1531.5,210.3 L1531.5,1503.0 1523.3,1506.2 1515.2,1509.3 1507.0,1512.3 1498.8,1515.2 Z" fill="#b3b2b3" stroke="#000" stroke-width="2.2" stroke-linejoin="round"/>
<path d="M 464.5 89.5 L 1090 89.5 L 1090 164" fill="none" stroke="#b51c2c" stroke-width="3.4" stroke-linecap="round" stroke-linejoin="miter"/>
<path d="M 484.7 120 L 484.7 709 M 484.7 972.5 L 484.7 1590" fill="none" stroke="#b51c2c" stroke-width="3.3"/>
<path d="M 464.5 1612.5 L 650 1612.5" fill="none" stroke="#b51c2c" stroke-width="3.4" stroke-linecap="round"/>
<polygon points="484.7,90.5 494.7,126.7 474.8,126.7" fill="#c8102e"/>
<polygon points="484.7,1611.5 494.7,1576.4 474.8,1576.4" fill="#c8102e"/>
<path d="M 555.6 210.3 L 650 210.3" stroke="#000" stroke-width="3.3" stroke-linecap="round"/>
<path d="M 573.9 240 L 573.9 716.7 M 573.9 972.5 L 573.9 1590" fill="none" stroke="#000" stroke-width="3.3"/>
<polygon points="573.9,211.8 584.1,247.2 563.9,247.2" fill="#000"/>
<polygon points="573.9,1611 584.1,1575.4 563.9,1575.4" fill="#000"/>
<path d="M 1531.5 210.2 L 1626.3 210.2 M 1531.5 1504 L 1626.3 1504 M 1531.5 1617.7 L 1626.3 1617.7" stroke="#000" stroke-width="3.2" stroke-linecap="round"/>
<path d="M 1606.8 240 L 1606.8 711.6 M 1606.8 990.4 L 1606.8 1480 M 1606.8 1530 L 1606.8 1595" fill="none" stroke="#000" stroke-width="3.3"/>
<polygon points="1606.8,211.4 1616.8,247 1596.8,247" fill="#000"/>
<polygon points="1606.8,1504 1616.6,1467 1597,1467" fill="#000"/>
<polygon points="1606.8,1504 1616.6,1540.5 1597,1540.5" fill="#000"/>
<polygon points="1606.8,1617.7 1616.6,1582.2 1597,1582.2" fill="#000"/>
<text transform="translate(469.7,742.5) rotate(90)" font-size="45.5" fill="#b51c2c" stroke="#b51c2c" textLength="198.5">225 cm *1</text>
<text transform="translate(559.6,768) rotate(90)" font-size="45.5" fill="#000" stroke="#000" textLength="150">220 cm</text>
<text transform="translate(1594,790.5) rotate(90)" font-size="45.5" fill="#000" stroke="#000" textLength="138">195 cm</text>
<text x="1640" y="1583.8" font-size="45.5" fill="#000" stroke="#000" textLength="117.5">25 cm</text>
<g stroke="#000" fill="none" stroke-width="1.6">
<path d="M 690.7 1849.3 L 690.7 2065 M 1506.4 1854.3 L 1506.4 2069.5 M 1106.8 1782.5 L 1106.8 1854.3"/>
<path d="M 690.7 1877 L 1106.8 1804.2 L 1506.4 1874.8"/>
</g>
<path d="M 690.7 1921.5 L 1020.5 1855.4 L 1191.4 1855.4 L 1506.4 1926.7 L 1506.4 2069.5 Q 1106.8 2210 690.7 2065 Z" fill="#fff" stroke="#000" stroke-width="1.8" stroke-linejoin="round"/>
<path d="M 690.7 1921.5 L 1020.5 1855.4 L 1191.4 1855.4 L 1506.4 1926.7 L 1478.4 1934.5 L 1189 1872 L 1020.5 1872 L 735.8 1936.3 Z" fill="#ebebeb" stroke="#000" stroke-width="1.8" stroke-linejoin="round"/>
<path d="M 800.7 1953.4 L 1020.5 1904.4 L 1189 1904.4 L 1416.9 1954.5" fill="none" stroke="#000" stroke-width="1.8"/>
<ellipse cx="1107.4" cy="1919.2" rx="19.7" ry="8" fill="#c6c5c6" stroke="#000" stroke-width="1.8"/>
<path d="M 690.7 1923 Q 1106.8 2062 1506.4 1927.2 L 1506.4 1954.5 Q 1106.8 2113 690.7 1948.8 Z" fill="#c6c5c6" stroke="#000" stroke-width="1.8" stroke-linejoin="round"/>
<text transform="translate(754,1854) rotate(-10.1)" font-size="43" fill="#000" stroke="#000" textLength="305">80 / 90 / 100 cm</text>
<text transform="translate(1167,1806) rotate(10.1)" font-size="43" fill="#000" stroke="#000" textLength="306">80 / 90 / 100 cm</text>
<text x="1715" y="2072" font-size="84" fill="#e30613" stroke="#e30613" stroke-width="1.6" textLength="72" lengthAdjust="spacingAndGlyphs">S1</text>
</svg></body></html>
